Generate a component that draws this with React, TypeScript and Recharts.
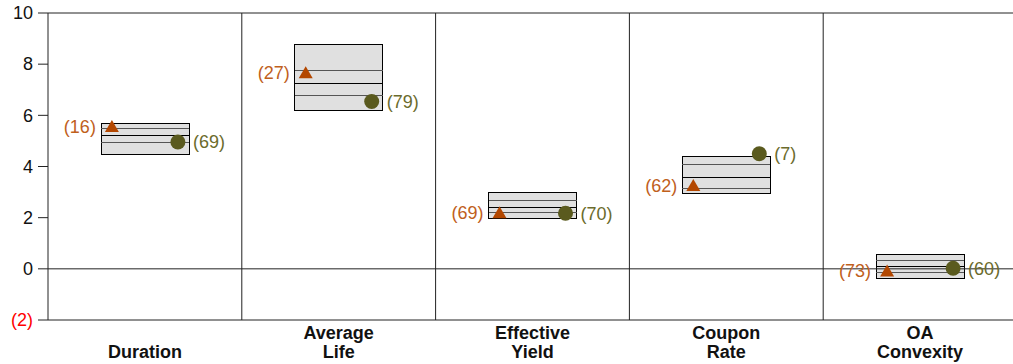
import React from "react";
import { ComposedChart, Bar, Line, XAxis, YAxis, ReferenceLine } from "recharts";

const categories = ["Duration", "Average Life", "Effective Yield", "Coupon Rate", "OA Convexity"];
const boxLow = [4.45, 6.17, 1.95, 2.93, -0.39];
const boxHigh = [5.7, 8.78, 2.98, 4.41, 0.57];
const lowerLine = [4.92, 6.76, 2.21, 3.15, -0.14];
const medianLine = [5.2, 7.25, 2.41, 3.58, 0.09];
const upperLine = [5.47, 7.77, 2.67, 4.09, 0.32];
const triValues = [5.56, 7.66, 2.19, 3.26, -0.08];
const triRanks = [16, 27, 69, 62, 73];
const dotValues = [4.96, 6.54, 2.17, 4.5, 0.02];
const dotRanks = [69, 79, 70, 7, 60];
const yTicks = [-2, 0, 2, 4, 6, 8, 10];

const data = categories.map((name, i) => ({
  name,
  box: [boxLow[i], boxHigh[i]],
  lower: lowerLine[i],
  median: medianLine[i],
  upper: upperLine[i],
  tri: triValues[i],
  triRank: triRanks[i],
  dot: dotValues[i],
  dotRank: dotRanks[i],
}));

const FONT = "'Liberation Sans', Arial, sans-serif";
const TRI = "#b34700";
const TRI_TXT = "#c0601c";
const DOT = "#5a5a1e";
const DOT_TXT = "#6b6b2c";

function BoxShape(props: any) {
  const { x, y, width, height, payload } = props;
  const [lo, hi] = payload.box;
  const toY = (v: number) => y + ((hi - v) / (hi - lo)) * height;
  return (
    <g shapeRendering="crispEdges">
      <rect x={x} y={y} width={width} height={height} fill="#e0e0e0" stroke="#000" strokeWidth={1} />
      <line x1={x} x2={x + width} y1={toY(payload.upper)} y2={toY(payload.upper)} stroke="#555" />
      <line x1={x} x2={x + width} y1={toY(payload.median)} y2={toY(payload.median)} stroke="#000" />
      <line x1={x} x2={x + width} y1={toY(payload.lower)} y2={toY(payload.lower)} stroke="#555" />
    </g>
  );
}

function TriDot(props: any) {
  const { cx, cy, payload, index } = props;
  if (cx == null || cy == null) return null;
  const x = cx - 33;
  return (
    <g key={"t" + index}>
      <polygon points={`${x},${cy - 6.5} ${x - 7},${cy + 5.5} ${x + 7},${cy + 5.5}`} fill={TRI} />
      <text x={x - 16} y={cy} dy="0.35em" textAnchor="end" fill={TRI_TXT} fontSize={18} fontFamily={FONT}>
        ({payload.triRank})
      </text>
    </g>
  );
}

function CircleDot(props: any) {
  const { cx, cy, payload, index } = props;
  if (cx == null || cy == null) return null;
  const x = cx + 33;
  return (
    <g key={"c" + index}>
      <circle cx={x} cy={cy} r={7.5} fill={DOT} />
      <text x={x + 15} y={cy} dy="0.35em" textAnchor="start" fill={DOT_TXT} fontSize={18} fontFamily={FONT}>
        ({payload.dotRank})
      </text>
    </g>
  );
}

function YTick(props: any) {
  const { x, y, payload } = props;
  const v = payload.value;
  return (
    <text x={x} y={y} dy="0.35em" textAnchor="end" fontSize={18} fontFamily={FONT} fill={v < 0 ? "#ff0000" : "#111"}>
      {v < 0 ? `(${Math.abs(v)})` : v}
    </text>
  );
}

function XTick(props: any) {
  const { x, y, payload } = props;
  const words = String(payload.value).split(" ");
  const base = y + 30;
  return (
    <text textAnchor="middle" fontSize={18} fontWeight="bold" fontFamily={FONT} fill="#111">
      {words.map((w, i) => (
        <tspan key={w} x={x} y={base - (words.length - 1 - i) * 19}>
          {w}
        </tspan>
      ))}
    </text>
  );
}

export default function App() {
  return (
    <div style={{ position: "absolute", left: 0, top: 0 }}>
      <ComposedChart width={1017} height={364} data={data} margin={{ top: 13, right: 0, left: 0, bottom: 0 }}>
        <XAxis
          dataKey="name"
          height={44}
          interval={0}
          tickLine={false}
          axisLine={{ stroke: "#222" }}
          tick={<XTick />}
        />
        <YAxis
          domain={[-2, 10]}
          ticks={yTicks}
          width={48}
          tickSize={10}
          tickMargin={5}
          interval={0}
          axisLine={{ stroke: "#222" }}
          tickLine={{ stroke: "#222" }}
          tick={<YTick />}
        />
        {categories.slice(1).map((c) => (
          <ReferenceLine key={c} x={c} position="start" stroke="#222" />
        ))}
        <ReferenceLine y={0} stroke="#222" />
        <ReferenceLine y={10} stroke="#222" />
        <Bar dataKey="box" barSize={88} shape={<BoxShape />} isAnimationActive={false} />
        <Line dataKey="tri" stroke="none" dot={TriDot} activeDot={false} isAnimationActive={false} />
        <Line dataKey="dot" stroke="none" dot={CircleDot} activeDot={false} isAnimationActive={false} />
      </ComposedChart>
    </div>
  );
}
